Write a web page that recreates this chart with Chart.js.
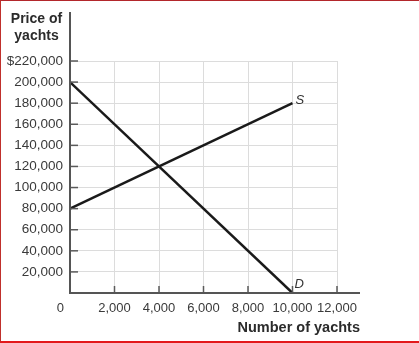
<!DOCTYPE html>
<html>
<head>
<meta charset="utf-8">
<script src="https://cdn.jsdelivr.net/npm/chart.js@4.4.1/dist/chart.umd.min.js"></script>
<style>
  html, body { margin: 0; padding: 0; background: #fff; }
  #wrap { position: relative; width: 419px; height: 343px; }
  #frame { position: absolute; left: 0; top: 0; width: 418px; height: 340px;
           border-top: 1px solid #b3272b; border-left: 1px solid #c0302c; border-bottom: 2px solid #e3191c;
           pointer-events: none; }
  canvas { display: block; }
</style>
</head>
<body>
<div id="wrap">
  <canvas id="c" width="419" height="343"></canvas>
  <div id="frame"></div>
</div>
<script>
// ---- data ----
const demandQty   = [0, 10000];
const demandPrice = [200000, 0];
const supplyQty   = [0, 10000];
const supplyPrice = [80000, 180000];
const xTickValues = [0, 2000, 4000, 6000, 8000, 10000, 12000];
const yTickValues = [0, 20000, 40000, 60000, 80000, 100000, 120000, 140000, 160000, 180000, 200000, 220000];
const yTopLabel = '$220,000';
const xAxisTitle = 'Number of yachts';
const yAxisTitle = ['Price of', 'yachts'];
const supplyLabel = 'S';
const demandLabel = 'D';

const FONT = '"Liberation Sans", Arial, Helvetica, sans-serif';
const fmt = v => v.toLocaleString('en-US');

const decor = {
  id: 'decor',
  afterDraw(chart) {
    const ctx = chart.ctx;
    const xs = chart.scales.x, ys = chart.scales.y;
    const x0 = xs.getPixelForValue(0), y0 = ys.getPixelForValue(0);
    ctx.save();
    // tick marks inside the plot
    ctx.strokeStyle = '#5a5a5a';
    ctx.lineWidth = 1.5;
    yTickValues.forEach(v => {
      const y = ys.getPixelForValue(v);
      ctx.beginPath(); ctx.moveTo(x0, y); ctx.lineTo(x0 + 8, y); ctx.stroke();
    });
    xTickValues.forEach(v => {
      const x = xs.getPixelForValue(v);
      ctx.beginPath(); ctx.moveTo(x, y0); ctx.lineTo(x, y0 - 7); ctx.stroke();
    });
    // axes, extended past the grid
    ctx.strokeStyle = '#555';
    ctx.lineWidth = 2;
    ctx.beginPath();
    ctx.moveTo(x0, 12); ctx.lineTo(x0, y0);
    ctx.lineTo(xs.getPixelForValue(12000) + 23, y0);
    ctx.stroke();
    // titles
    ctx.fillStyle = '#2b2b2b';
    ctx.font = 'bold 14px ' + FONT;
    ctx.textAlign = 'center';
    ctx.textBaseline = 'alphabetic';
    ctx.fillText(yAxisTitle[0], 36.5, 22.5);
    ctx.fillText(yAxisTitle[1], 36.5, 39.5);
    ctx.font = 'bold 14.5px ' + FONT;
    ctx.textAlign = 'right';
    ctx.fillText(xAxisTitle, 360, 332);
    // curve labels
    ctx.font = 'italic 13px ' + FONT;
    ctx.textAlign = 'left';
    ctx.fillStyle = '#333';
    ctx.fillText(supplyLabel, xs.getPixelForValue(supplyQty[1]) + 3, ys.getPixelForValue(supplyPrice[1]) + 1);
    ctx.fillText(demandLabel, xs.getPixelForValue(demandQty[1]) + 2, ys.getPixelForValue(demandPrice[1]) - 5);
    ctx.restore();
  }
};

new Chart(document.getElementById('c'), {
  type: 'line',
  data: {
    datasets: [
      { label: 'D', data: demandQty.map((q, i) => ({ x: q, y: demandPrice[i] })),
        borderColor: '#1a1a1a', borderWidth: 2.5, pointRadius: 0, fill: false, tension: 0 },
      { label: 'S', data: supplyQty.map((q, i) => ({ x: q, y: supplyPrice[i] })),
        borderColor: '#1a1a1a', borderWidth: 2.5, pointRadius: 0, fill: false, tension: 0 }
    ]
  },
  options: {
    responsive: false,
    animation: false,
    layout: { padding: { left: 0, right: 82, top: 61, bottom: 0 } },
    plugins: { legend: { display: false }, tooltip: { enabled: false } },
    scales: {
      x: {
        type: 'linear', min: 0, max: 12000,
        afterBuildTicks: s => { s.ticks = xTickValues.map(v => ({ value: v })); },
        afterFit: s => { s.height = 50; },
        grid: { color: '#dcdcdc', lineWidth: 1, drawTicks: false },
        border: { display: false },
        ticks: {
          autoSkip: false, maxRotation: 0, padding: 8, color: '#3a3a3a',
          font: { family: FONT, size: 13 },
          callback: v => v === 0 ? '0\u2002\u2002\u2002' : fmt(v)
        }
      },
      y: {
        type: 'linear', min: 0, max: 220000,
        afterBuildTicks: s => { s.ticks = yTickValues.map(v => ({ value: v })); },
        afterFit: s => { s.width = 70; },
        grid: { color: '#dcdcdc', lineWidth: 1, drawTicks: false },
        border: { display: false },
        ticks: {
          autoSkip: false, padding: 7, color: '#3a3a3a',
          font: { family: FONT, size: 13.5 },
          callback: v => v === 0 ? '' : (v === 220000 ? yTopLabel : fmt(v))
        }
      }
    }
  },
  plugins: [decor]
});
</script>
</body>
</html>
